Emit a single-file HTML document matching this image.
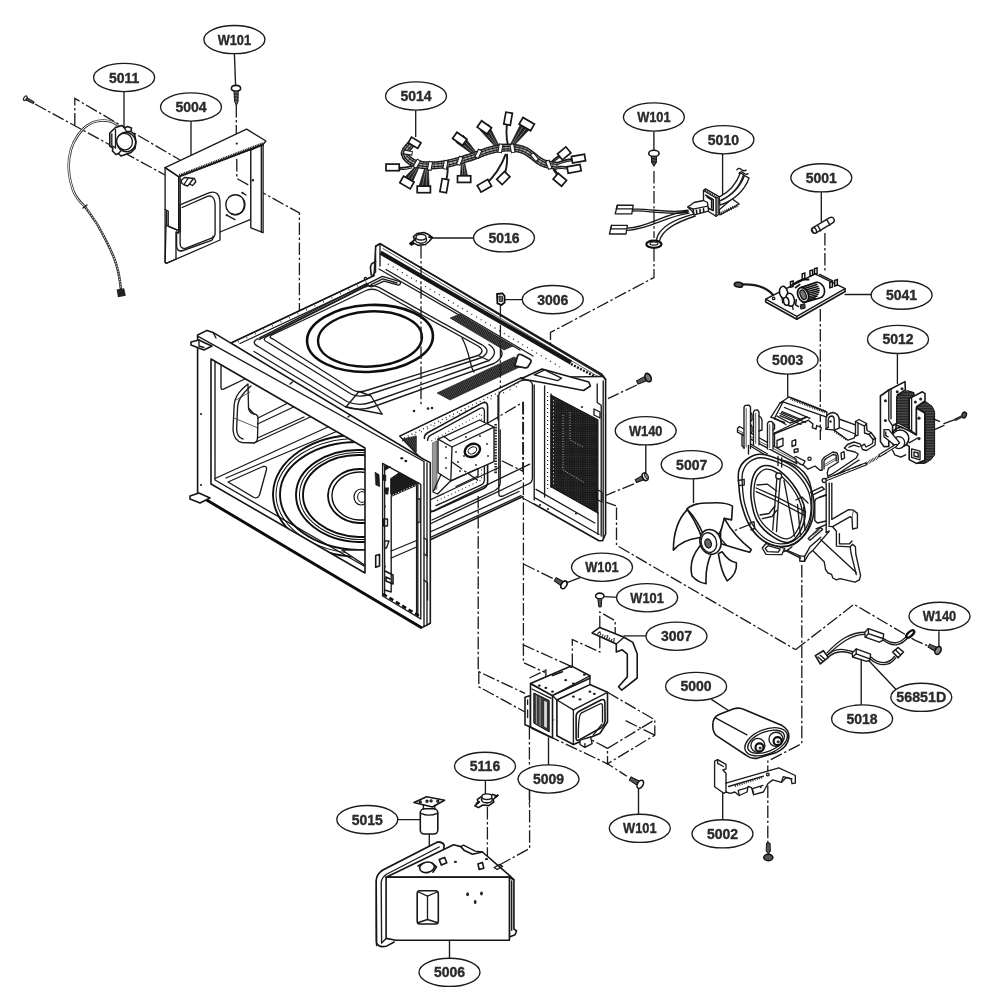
<!DOCTYPE html>
<html><head><meta charset="utf-8"><title>Exploded view</title>
<style>
html,body{margin:0;padding:0;background:#fff;}
body{width:1000px;height:1000px;overflow:hidden;font-family:"Liberation Sans",sans-serif;}
svg{display:block;}
.l{fill:none;stroke:#1a1a1a;stroke-width:1.35;stroke-linecap:round;stroke-linejoin:round;}
.t{fill:none;stroke:#161616;stroke-width:1.6;stroke-linecap:round;stroke-linejoin:round;}
.h{fill:none;stroke:#333;stroke-width:0.8;stroke-linecap:round;stroke-linejoin:round;}
.w{fill:#fff;stroke:#1a1a1a;stroke-width:1.35;stroke-linecap:round;stroke-linejoin:round;}
.wt{fill:#fff;stroke:#161616;stroke-width:1.6;stroke-linecap:round;stroke-linejoin:round;}
.k{fill:#222;stroke:none;}
.d{fill:none;stroke:#1a1a1a;stroke-width:1.3;stroke-dasharray:12.5 2.6 2.4 2.6;}
.lb ellipse{fill:#fff;stroke:#1a1a1a;stroke-width:1.35;}
.lb text{font-family:"Liberation Sans",sans-serif;font-weight:bold;font-size:14px;fill:#2a2a2a;stroke:#2a2a2a;stroke-width:0.35;text-anchor:middle;}
</style></head><body>
<svg width="1000" height="1000" viewBox="0 0 1000 1000">
<defs>
<filter id="bl" x="-2%" y="-2%" width="104%" height="104%"><feGaussianBlur stdDeviation="0.55"/></filter>
</defs>
<rect width="1000" height="1000" fill="#fff"/>
<g filter="url(#bl)">
<!-- 10_topleft.svg -->
<g id="p5004">
<!-- dash-dot guide lines -->
<path class="d" d="M35,104 L165,175"/>
<path class="d" d="M74.8,125.5 L74.8,98.4 L180,160"/>
<path class="d" d="M236.3,105 L236.3,141"/>
<path class="d" d="M236.8,159 L236.8,178.5 L299.4,213 L299.4,313"/>
<!-- plate top face -->
<path class="w" d="M165.1,167.6 L246.6,129.1 L265.9,141 L263,144.5 L178.7,176.7 Z"/>
<!-- left flange and main face -->
<path class="w" d="M165.1,167.6 L178.7,176.7 L178.7,230.6 L166,225 L165.1,262 Q165.1,263.5 167,263 L176,259 L176,232 L178.7,233 L178.7,176.7"/>
<path class="l" d="M165.1,167.6 L165.1,261.5 Q165.2,263.6 167.5,262.8 L220,240 L220,232 L250.8,219.4 L250.8,150.1"/>
<path class="l" d="M178.7,176.7 L178.7,232"/>
<path class="l" d="M180.2,178 L180.2,232"/>
<path class="l" d="M165.1,209.5 L168.2,211 L168.2,226.4 L178.7,230.6"/>
<path class="l" d="M166.6,211 L166.6,225.5"/>
<!-- right flange -->
<path class="w" d="M250.8,150.1 L263.1,144.3 L263.1,232.7 L250.8,227.8 Z"/>
<path class="l" d="M261.3,145.5 L261.3,232"/>
<!-- hatched near edge -->
<path d="M179.5,175.8 L263,143.9" stroke="#1a1a1a" stroke-width="3.4" stroke-dasharray="1.1 0.7" fill="none"/>
<path class="l" d="M178.7,176.7 L263,144.5"/>
<!-- embossed panel -->
<path class="l" d="M178.7,205.4 L208.8,192.8 Q219.5,189.5 220,202.6 L220,232"/>
<path class="l" d="M182.2,207.5 L207.4,196.3 Q214.8,194.3 215.1,205.4 L215.1,233.4 Q215,237 211.6,238.2 L186,248.1 Q180.2,249.5 180.1,243.2 L180.1,207.5"/>
<path class="l" d="M176.6,232 L176.6,246 Q177,252.5 183,250.5 L211.6,240.4 Q213.5,239 213,236.2"/>
<!-- circle hole -->
<ellipse class="l" cx="235.4" cy="204.7" rx="9.6" ry="10"/>
<path class="l" d="M243,199 Q246,205 242.3,211.2 Q238,216 231.5,214.2"/>
<circle class="k" cx="242.4" cy="192.8" r="1.1"/><path class="l" d="M242.4,192.8 L246,195"/>
<circle class="k" cx="226.7" cy="215.2" r="1.1"/><path class="l" d="M226.7,215.2 L235,219.6"/>
<circle class="k" cx="252.9" cy="180.2" r="1.2"/>
<circle class="k" cx="236.8" cy="143.6" r="1.1"/>
<!-- clip -->
<path class="w" d="M181,180.5 L184.5,177.5 L194.5,178.5 L195.8,182 L192.5,185.5 L189.5,184 L187.5,186 L184.5,185 L182,183.5 Z"/>
<path class="l" d="M184,184.5 L188,178.5 M189.5,184 L193,179"/>
</g>
<g id="p5011">
<!-- cable -->
<path d="M120,127.5 C112,118 95,118 84,128 C66,146 66,170 73,190 C76,198 80,202 84.8,206.4 C92,216 95,221 98,225.6 C105,238 110,248 113.6,256.8 C118,268 120,279 120.8,288.5" fill="none" stroke="#333" stroke-width="2.5" stroke-linecap="round"/>
<path d="M120,127.5 C112,118 95,118 84,128 C66,146 66,170 73,190 C76,198 80,202 84.8,206.4" fill="none" stroke="#fff" stroke-width="1"/>
<path d="M84.8,206.4 C92,216 95,221 98,225.6 C105,238 110,248 113.6,256.8 C118,268 120,279 120.8,288.5" fill="none" stroke="#ddd" stroke-width="1.2" stroke-dasharray="1.2 1.4"/>
<path class="l" d="M83,208 L87,205"/>
<path class="k" d="M116.6,289.6 L124.2,288.2 L125.8,295.8 L118,297.2 Z"/>
<!-- sensor body -->
<path class="wt" d="M109.8,133 L115.5,127.5 L122,125.5 L124.5,128 L127.5,126.5 L131.5,128 L131,131.5 L134.5,134.5 L136,142 L135,148.5 L131,152.5 L121,156 L118.5,153.5 L116,154.5 L112.5,151 L112.8,148 L109.8,146 Z"/>
<path class="l" d="M111.8,134 L111.8,145.5 L115.5,148 M115.5,129.5 L115.5,147.5"/>
<ellipse class="wt" cx="126.2" cy="142" rx="9.4" ry="9.8" transform="rotate(-25 126.2 142)"/>
<ellipse class="w" cx="124.6" cy="141.6" rx="7.8" ry="8.3" transform="rotate(-25 124.6 141.6)"/>
<path class="l" d="M124.5,128 L126.5,131.5 M131,131.5 L126.5,131.5 M118.5,153.5 L121,150.8"/>
<!-- small screw -->
<g transform="translate(29.5,100.5) rotate(28)">
<ellipse cx="-4.8" cy="0" rx="1.4" ry="2.6" fill="#fff" stroke="#222" stroke-width="1.2"/>
<path d="M-3.4,-1.4 L5,-1 L5,1 L-3.4,1.4 Z" fill="#444" stroke="#222" stroke-width="0.8"/>
</g>
</g>
<!-- W101 screw top-left -->
<g id="s1">
<path class="l" d="M234.4,53.2 L235.6,86"/>
<path class="wt" d="M231.4,88.6 Q231.4,85.4 236,85.4 Q240.6,85.4 240.6,88.6 Q240.6,91.2 236,91.2 Q231.4,91.2 231.4,88.6 Z"/>
<path d="M234,91.2 L238.2,91.2 L238,101.5 L236.4,105.5 L234.6,101.5 Z" fill="#666" stroke="#1a1a1a" stroke-width="1"/>
<path d="M233.8,93.5 L238.4,94.5 M233.8,96.5 L238.4,97.5 M234,99.5 L238.2,100.5" stroke="#1a1a1a" stroke-width="1" fill="none"/>
</g>
<path class="l" d="M124,91 L124,127.5"/>
<path class="l" d="M191,120.5 L191,154.5"/>

<!-- 20_harness.svg -->
<g id="p5014">
<path d="M412.4,165.9 Q402.7,169.1 392.6,167.4" stroke="#1a1a1a" stroke-width="1.9" fill="none"/>
<path d="M412.4,167.7 Q402.7,170.9 392.6,169.2" stroke="#1a1a1a" stroke-width="1.1" fill="none"/>
<path d="M416.6,165.0 L402.7,179.6 L411.1,185.2 L419.2,166.8 Z" fill="#222" stroke="#222" stroke-width="0.8"/>
<path d="M417.5,165.6 L405.2,181.3 M418.3,166.2 L408.6,183.5" stroke="#aaa" stroke-width="0.6" fill="none"/>
<path d="M425.1,166.8 L418.3,188.7 L429.3,190.2 L428.3,167.2 Z" fill="#222" stroke="#222" stroke-width="0.8"/>
<path d="M426.2,166.9 L421.6,189.2 M427.2,167.1 L426.0,189.7" stroke="#aaa" stroke-width="0.6" fill="none"/>
<path d="M447.6,165.9 Q448.3,176.2 444.3,185.7" stroke="#1a1a1a" stroke-width="1.9" fill="none"/>
<path d="M461.4,162.7 L460.2,179.4 L468.1,178.8 L464.6,162.5 Z" fill="#222" stroke="#222" stroke-width="0.8"/>
<path d="M462.5,162.6 L462.5,179.2 M463.5,162.6 L465.7,179.0" stroke="#aaa" stroke-width="0.6" fill="none"/>
<path d="M477.3,153.8 L463.3,135.2 L456.2,142.5 L475.1,156.1 Z" fill="#222" stroke="#222" stroke-width="0.8"/>
<path d="M476.6,154.5 L461.1,137.4 M475.9,155.3 L458.3,140.3" stroke="#aaa" stroke-width="0.6" fill="none"/>
<path d="M499.5,146.7 L488.5,124.5 L480.2,130.3 L496.9,148.5 Z" fill="#222" stroke="#222" stroke-width="0.8"/>
<path d="M498.6,147.4 L486.0,126.3 M497.8,147.9 L482.7,128.6" stroke="#aaa" stroke-width="0.6" fill="none"/>
<path d="M508.1,146.1 Q504.8,132.4 508.1,118.6" stroke="#1a1a1a" stroke-width="1.9" fill="none"/>
<path d="M512.7,147.0 L531.4,127.3 L522.3,120.9 L510.1,145.2 Z" fill="#222" stroke="#222" stroke-width="0.8"/>
<path d="M511.8,146.4 L528.6,125.4 M511.0,145.8 L525.0,122.8" stroke="#aaa" stroke-width="0.6" fill="none"/>
<path d="M505.9,153.8 Q499.0,172.3 484.4,185.7" stroke="#1a1a1a" stroke-width="1.9" fill="none"/>
<path d="M507.0,153.8 Q508.0,166.4 503.3,178.0" stroke="#1a1a1a" stroke-width="1.9" fill="none"/>
<path d="M551.0,162.6 Q556.5,156.4 564.2,153.4" stroke="#1a1a1a" stroke-width="1.9" fill="none"/>
<path d="M551.0,164.4 Q556.5,158.2 564.2,155.2" stroke="#1a1a1a" stroke-width="1.1" fill="none"/>
<path d="M555.4,163.7 Q566.4,158.4 578.5,158.6" stroke="#1a1a1a" stroke-width="1.9" fill="none"/>
<path d="M555.4,165.5 Q566.4,160.2 578.5,160.4" stroke="#1a1a1a" stroke-width="1.1" fill="none"/>
<path d="M556.5,167.0 Q565.5,165.8 574.1,168.8" stroke="#1a1a1a" stroke-width="1.9" fill="none"/>
<path d="M556.5,168.8 Q565.5,167.6 574.1,170.6" stroke="#1a1a1a" stroke-width="1.1" fill="none"/>
<path d="M553.2,168.1 Q557.9,173.1 559.8,179.8" stroke="#1a1a1a" stroke-width="1.9" fill="none"/>
<path d="M553.2,169.9 Q557.9,174.9 559.8,181.6" stroke="#1a1a1a" stroke-width="1.1" fill="none"/>
<path d="M411.3,143.9 C410.2,145.6 404.0,150.5 404.7,153.8 C405.4,157.1 409.7,161.9 415.7,163.7 C421.8,165.5 432.4,165.7 441.0,164.8 C449.6,163.9 459.3,160.6 467.4,158.2 C475.5,155.8 482.8,152.3 489.4,150.5 C496.0,148.7 501.1,147.6 507.0,147.6 C512.9,147.6 518.7,148.0 524.6,150.5 C530.5,153.0 536.7,160.0 542.2,162.6 C547.7,165.2 555.1,165.4 557.6,165.9" stroke="#1e1e1e" stroke-width="8" fill="none" stroke-linecap="butt"/>
<path d="M411.3,143.9 C410.2,145.6 404.0,150.5 404.7,153.8 C405.4,157.1 409.7,161.9 415.7,163.7 C421.8,165.5 432.4,165.7 441.0,164.8 C449.6,163.9 459.3,160.6 467.4,158.2 C475.5,155.8 482.8,152.3 489.4,150.5 C496.0,148.7 501.1,147.6 507.0,147.6 C512.9,147.6 518.7,148.0 524.6,150.5 C530.5,153.0 536.7,160.0 542.2,162.6 C547.7,165.2 555.1,165.4 557.6,165.9" stroke="#b5b5b5" stroke-width="5.2" fill="none"/>
<path d="M411.3,143.9 C410.2,145.6 404.0,150.5 404.7,153.8 C405.4,157.1 409.7,161.9 415.7,163.7 C421.8,165.5 432.4,165.7 441.0,164.8 C449.6,163.9 459.3,160.6 467.4,158.2 C475.5,155.8 482.8,152.3 489.4,150.5 C496.0,148.7 501.1,147.6 507.0,147.6 C512.9,147.6 518.7,148.0 524.6,150.5 C530.5,153.0 536.7,160.0 542.2,162.6 C547.7,165.2 555.1,165.4 557.6,165.9" stroke="#1e1e1e" stroke-width="3.8" fill="none"/>
<path d="M411.3,143.9 C410.2,145.6 404.0,150.5 404.7,153.8 C405.4,157.1 409.7,161.9 415.7,163.7 C421.8,165.5 432.4,165.7 441.0,164.8 C449.6,163.9 459.3,160.6 467.4,158.2 C475.5,155.8 482.8,152.3 489.4,150.5 C496.0,148.7 501.1,147.6 507.0,147.6 C512.9,147.6 518.7,148.0 524.6,150.5 C530.5,153.0 536.7,160.0 542.2,162.6 C547.7,165.2 555.1,165.4 557.6,165.9" stroke="#b5b5b5" stroke-width="1.4" fill="none"/>
<path d="M411.3,143.9 C410.2,145.6 404.0,150.5 404.7,153.8 C405.4,157.1 409.7,161.9 415.7,163.7 C421.8,165.5 432.4,165.7 441.0,164.8 C449.6,163.9 459.3,160.6 467.4,158.2 C475.5,155.8 482.8,152.3 489.4,150.5 C496.0,148.7 501.1,147.6 507.0,147.6 C512.9,147.6 518.7,148.0 524.6,150.5 C530.5,153.0 536.7,160.0 542.2,162.6 C547.7,165.2 555.1,165.4 557.6,165.9" stroke="#1e1e1e" stroke-width="8" fill="none" stroke-dasharray="1.2 2.6" opacity="0.55"/>
<rect x="415.0" y="159.5" width="3.6" height="8.4" transform="rotate(30 416.8 163.7)" fill="#fff" stroke="#1a1a1a" stroke-width="1"/>
<rect x="428.2" y="161.7" width="3.6" height="8.4" transform="rotate(10 430.0 165.9)" fill="#fff" stroke="#1a1a1a" stroke-width="1"/>
<rect x="443.6" y="160.6" width="3.6" height="8.4" transform="rotate(10 445.4 164.8)" fill="#fff" stroke="#1a1a1a" stroke-width="1"/>
<rect x="457.9" y="156.6" width="3.6" height="8.4" transform="rotate(20 459.7 160.8)" fill="#fff" stroke="#1a1a1a" stroke-width="1"/>
<rect x="476.6" y="149.6" width="3.6" height="8.4" transform="rotate(25 478.4 153.8)" fill="#fff" stroke="#1a1a1a" stroke-width="1"/>
<rect x="498.6" y="144.1" width="3.6" height="8.4" transform="rotate(10 500.4 148.3)" fill="#fff" stroke="#1a1a1a" stroke-width="1"/>
<rect x="510.7" y="144.1" width="3.6" height="8.4" transform="rotate(170 512.5 148.3)" fill="#fff" stroke="#1a1a1a" stroke-width="1"/>
<rect x="532.7" y="152.9" width="3.6" height="8.4" transform="rotate(140 534.5 157.1)" fill="#fff" stroke="#1a1a1a" stroke-width="1"/>
<rect x="547.0" y="160.6" width="3.6" height="8.4" transform="rotate(160 548.8 164.8)" fill="#fff" stroke="#1a1a1a" stroke-width="1"/>
<rect x="406.2" y="148.5" width="3.6" height="8.4" transform="rotate(100 408.0 152.7)" fill="#fff" stroke="#1a1a1a" stroke-width="1"/>
<rect x="409.1" y="139.5" width="11.0" height="6.6" transform="rotate(30 414.6 142.8)" fill="#fff" stroke="#151515" stroke-width="1.7"/>
<rect x="386.0" y="164.1" width="13.2" height="6.6" transform="rotate(0 392.6 167.4)" fill="#fff" stroke="#151515" stroke-width="1.7"/>
<rect x="400.9" y="178.6" width="12.1" height="7.7" transform="rotate(30 406.9 182.4)" fill="#fff" stroke="#151515" stroke-width="1.7"/>
<rect x="417.2" y="186.1" width="13.2" height="6.6" transform="rotate(0 423.8 189.4)" fill="#fff" stroke="#151515" stroke-width="1.7"/>
<rect x="441.0" y="179.1" width="6.6" height="13.2" transform="rotate(10 444.3 185.7)" fill="#fff" stroke="#151515" stroke-width="1.7"/>
<rect x="457.5" y="175.8" width="13.2" height="6.6" transform="rotate(0 464.1 179.1)" fill="#fff" stroke="#151515" stroke-width="1.7"/>
<rect x="453.7" y="135.0" width="12.1" height="7.7" transform="rotate(35 459.7 138.8)" fill="#fff" stroke="#151515" stroke-width="1.7"/>
<rect x="478.3" y="123.6" width="12.1" height="7.7" transform="rotate(35 484.4 127.4)" fill="#fff" stroke="#151515" stroke-width="1.7"/>
<rect x="504.8" y="112.6" width="6.6" height="12.1" transform="rotate(10 508.1 118.6)" fill="#fff" stroke="#151515" stroke-width="1.7"/>
<rect x="520.2" y="120.3" width="13.2" height="7.7" transform="rotate(30 526.8 124.1)" fill="#fff" stroke="#151515" stroke-width="1.7"/>
<rect x="478.3" y="181.9" width="12.1" height="7.7" transform="rotate(-30 484.4 185.7)" fill="#fff" stroke="#151515" stroke-width="1.7"/>
<rect x="497.8" y="174.2" width="11.0" height="7.7" transform="rotate(-45 503.3 178.0)" fill="#fff" stroke="#151515" stroke-width="1.7"/>
<rect x="558.7" y="149.5" width="11.0" height="7.7" transform="rotate(-40 564.2 153.4)" fill="#fff" stroke="#151515" stroke-width="1.7"/>
<rect x="571.9" y="155.3" width="13.2" height="6.6" transform="rotate(-10 578.5 158.6)" fill="#fff" stroke="#151515" stroke-width="1.7"/>
<rect x="567.5" y="165.5" width="13.2" height="6.6" transform="rotate(-10 574.1 168.8)" fill="#fff" stroke="#151515" stroke-width="1.7"/>
<rect x="554.3" y="175.9" width="11.0" height="7.7" transform="rotate(40 559.8 179.8)" fill="#fff" stroke="#151515" stroke-width="1.7"/>
<path class="l" d="M415.7,110.5 L415.7,136.5"/>
</g>

<!-- 30_5010.svg -->
<g id="p5010">
<path class="l" d="M653.9,131.8 L653.9,150.3"/>
<path class="l" d="M722.6,154.3 L722.6,194.4"/>
<path class="d" d="M654,171 L654,238"/>
<path class="d" d="M654,249 L654,277.5 L550.5,332.5 L550.5,376"/>
<ellipse class="wt" cx="653.9" cy="153.4" rx="5.2" ry="3.2"/>
<path d="M651.3,156.4 L656.5,156.4 L656.3,162.4 L653.9,165.9 L651.7,162.4 Z" fill="#555" stroke="#1a1a1a" stroke-width="1.1"/>
<path d="M651.2,158.4 l5.4,1 M651.3,161.4 l5.2,1" stroke="#111" stroke-width="1" fill="none"/>
<path class="l" d="M633.2,209.2 C649.4,207.9 669.2,214.2 688.1,210.2"/>
<path class="l" d="M633.2,211.0 C649.4,210.2 669.2,216.0 688.1,212.0"/>
<path class="l" d="M627.8,228.2 C649.4,226.8 662.0,214.2 688.1,211.0"/>
<path class="l" d="M627.8,230.4 C651.2,228.9 663.8,216.9 689.0,213.1"/>
<path class="l" d="M656.2,240.8 C658.4,226.8 674.6,219.6 693.5,214.2"/>
<path class="l" d="M659.3,241.5 C662.0,229.5 676.4,222.3 695.3,216.0"/>
<ellipse cx="653.9" cy="244.2" rx="7.6" ry="3.6" fill="#fff" stroke="#111" stroke-width="2.2"/>
<ellipse cx="653.9" cy="243.6" rx="4" ry="1.6" fill="#fff" stroke="#111" stroke-width="1.2"/>
<path class="w" d="M617.4,205.2 L633.2,205.2 L631.8,213.8 L615.2,213.8 Z"/>
<path class="l" d="M617.4,205.2 L616.3,208.8 L632.5,208.8"/>
<path class="w" d="M611.6,225.3 L627.4,225.3 L626.0,234.0 L609.4,234.0 Z"/>
<path class="l" d="M611.6,225.3 L610.5,228.9 L626.7,228.9"/>
<path class="w" d="M719.0,210.0 L732.0,198.8 L739.2,204.0 L720.0,214.8 Z"/>
<path d="M721.0,213.2 L738.2,205.2" stroke="#1a1a1a" stroke-width="3" stroke-dasharray="1 1.1" fill="none"/>
<path class="w" d="M719.0,197.2 Q734.0,190.0 740.5,172.8 L743.5,174.8 Q738.0,193.0 719.5,201.2 Z"/>
<path class="w" d="M719.5,201.2 Q738.0,193.0 744.5,175.5 L749.0,178.2 Q742.0,197.0 720.0,205.2 Z"/>
<path class="l" d="M736.8,169.8 q2,-2.6 4.4,-0.4 t5,0.8 M739.0,173.2 q2,-2.4 4.4,-0.2 t4.6,0.6"/>
<path class="w" d="M703.5,190.5 L705.5,188.8 L719.0,196.5 L719.0,214.2 L716.0,216.2 L703.5,208.2 Z"/>
<path class="l" d="M703.5,190.5 L716.0,198.0 L716.0,216.2"/>
<path class="l" d="M716.0,198.0 L719.0,196.5"/>
<path d="M705.2,190.0 L717.2,197.0" stroke="#1a1a1a" stroke-width="2.6" stroke-dasharray="1 1" fill="none"/>
<path d="M717.5,198.5 L717.5,214.8" stroke="#1a1a1a" stroke-width="2.6" stroke-dasharray="1 1" fill="none"/>
<path class="t" d="M705.8,195.2 L713.2,199.6 L713.2,210.5 L708.5,208.2"/>
<path class="l" d="M707.2,197.2 L711.5,199.8 L711.5,208.0"/>
<path class="w" d="M687.8,207.0 L694.0,202.5 L703.5,200.5 L707.5,202.5 L708.5,211.2 L694.0,214.8 L692.5,211.5 Z"/>
<path class="l" d="M687.8,207.0 L693.2,209.2 L707.8,206.2"/>
<path class="l" d="M693.2,209.2 L694.0,214.8"/>
<path class="t" d="M696.5,210.2 L696.7,213.2"/>
<path class="t" d="M700.0,209.5 L700.2,212.5"/>
<path class="t" d="M703.5,208.8 L703.7,211.8"/>
</g>

<!-- 32_5041.svg -->
<g id="p5041">
<path class="l" d="M821.3,192.4 L821.3,221.4"/>
<path class="l" d="M845.1,294.5 L871.1,294.5"/>
<path class="d" d="M824.9,232.9 L824.9,272.8"/>
<path class="d" d="M820.3,309 L820.3,440"/>
<path d="M814.6,230.2 L831.2,220.3" stroke="#1a1a1a" stroke-width="7.4" stroke-linecap="round" fill="none"/>
<path d="M814.6,230.2 L831.2,220.3" stroke="#fff" stroke-width="4.6" stroke-linecap="round" fill="none"/>
<ellipse cx="814.3" cy="230.4" rx="1.9" ry="3" transform="rotate(-30 814.3 230.4)" class="w"/>
<path class="l" d="M817.8,225.6 L820.7,230.8"/>
<path class="l" d="M827.0,220.1 L830.0,225.2"/>
<path d="M774.9,297.7 C769.0,288.0 756.0,284.1 742.4,284.4" stroke="#1a1a1a" stroke-width="2.4" fill="none" stroke-linecap="round"/>
<ellipse cx="738.5" cy="284.7" rx="4.2" ry="2.4" transform="rotate(8 738.5 284.7)" fill="#555" stroke="#111" stroke-width="1.6"/>
<path class="wt" d="M765.7,299.1 L815.0,273.9 L845.1,288.6 L845.1,291.5 L796.8,319.3 L765.7,302.0 Z"/>
<path class="l" d="M765.7,299.1 L796.8,316.3 L845.1,288.6"/>
<path class="l" d="M796.8,316.3 L796.8,319.3"/>
<path d="M790.5,281.7 L793.1,280.9 L793.1,286.4 L790.5,287.2 Z" fill="#fff" stroke="#111" stroke-width="1.5"/>
<path d="M802.2,273.9 L804.8,273.1 L804.8,278.6 L802.2,279.4 Z" fill="#fff" stroke="#111" stroke-width="1.5"/>
<path d="M810.0,270.7 L812.6,269.9 L812.6,275.3 L810.0,276.1 Z" fill="#fff" stroke="#111" stroke-width="1.5"/>
<path d="M814.5,268.7 L817.1,267.9 L817.1,273.4 L814.5,274.2 Z" fill="#fff" stroke="#111" stroke-width="1.5"/>
<path d="M829.8,282.4 L832.4,281.6 L832.4,287.0 L829.8,287.8 Z" fill="#fff" stroke="#111" stroke-width="1.5"/>
<path d="M834.7,280.4 L837.3,279.6 L837.3,285.1 L834.7,285.9 Z" fill="#fff" stroke="#111" stroke-width="1.5"/>
<path class="l" d="M819.7,274.3 L832.7,280.8"/>
<ellipse cx="783.6" cy="292.5" rx="4.0" ry="6.2" transform="rotate(-12 783.6 292.5)" fill="#fff" stroke="#111" stroke-width="1.5"/>
<ellipse cx="790.1" cy="299.7" rx="4.2" ry="6.6" transform="rotate(-12 790.1 299.7)" fill="#fff" stroke="#111" stroke-width="1.5"/>
<ellipse cx="786.2" cy="301.3" rx="2.6" ry="4.0" transform="rotate(-12 786.2 301.3)" fill="#fff" stroke="#111" stroke-width="1.5"/>
<path class="l" d="M782.0,297.7 L782.7,302.9"/>
<path class="l" d="M792.4,305.5 L793.1,309.4"/>
<circle class="l" cx="773.6" cy="298.4" r="1.2"/>
<path d="M801.2,287.6 L815.8,282.4 A6.6,8 -20 0 1 819.7,298.0 L805.1,302.3 Z" fill="#fff" stroke="#111" stroke-width="1.6"/>
<path d="M801.2,287.6 Q808.7,285.0 816.1,282.4" stroke="#111" stroke-width="1.5" fill="none"/>
<path d="M801.3,289.4 Q809.8,286.9 817.5,284.3" stroke="#111" stroke-width="1.5" fill="none"/>
<path d="M801.4,291.2 Q810.7,288.7 818.6,286.3" stroke="#111" stroke-width="1.5" fill="none"/>
<path d="M801.5,293.1 Q811.4,290.6 819.4,288.2" stroke="#111" stroke-width="1.5" fill="none"/>
<path d="M801.6,294.9 Q811.7,292.5 819.7,290.2" stroke="#111" stroke-width="1.5" fill="none"/>
<path d="M801.7,296.7 Q811.5,294.4 819.4,292.1" stroke="#111" stroke-width="1.5" fill="none"/>
<path d="M801.8,298.6 Q810.9,296.3 818.6,294.1" stroke="#111" stroke-width="1.5" fill="none"/>
<path d="M801.9,300.4 Q810.1,298.2 817.5,296.0" stroke="#111" stroke-width="1.5" fill="none"/>
<path d="M802.0,302.3 Q809.0,300.1 816.1,298.0" stroke="#111" stroke-width="1.5" fill="none"/>
<ellipse cx="803.1" cy="294.8" rx="5.2" ry="7.6" transform="rotate(-22 803.1 294.8)" fill="#fff" stroke="#111" stroke-width="1.8"/>
<ellipse cx="803.1" cy="294.8" rx="2.8" ry="5" transform="rotate(-22 803.1 294.8)" fill="#777" stroke="#111" stroke-width="1.2"/>
<path d="M791.1,285.4 L797.6,281.5 L802.8,279.5 L809.3,279.5" stroke="#111" stroke-width="1.8" fill="none"/>
<path d="M795.0,288.0 L800.2,284.1" stroke="#111" stroke-width="1.6" fill="none"/>
<path d="M800.2,304.9 L804.8,303.6 L805.1,308.1 L800.9,309.1 Z" fill="#444" stroke="#111" stroke-width="1"/>
<path d="M796.3,299.0 L795.7,304.9 L798.9,306.8" stroke="#111" stroke-width="1.5" fill="none"/>
</g>

<!-- 40_5003.svg -->
<g id="p5003">
<path class="l" d="M787.7,374 L787.7,397"/>
<path class="w" d="M771.0,417.2 L780.0,403.0 L789.0,397.0 L826.8,412.0 L826.8,417.2 L783.0,401.8 L774.3,418.7"/>
<path class="l" d="M780.0,403.0 L783.0,401.8"/>
<path class="l" d="M771.0,417.2 L778.5,420.2"/>
<path d="M790.8,398.5 L825.0,411.7" stroke="#1a1a1a" stroke-width="3.2" stroke-dasharray="0.9 0.9" fill="none"/>
<path class="l" d="M784.5,407.5 L810.0,418.3"/>
<path class="l" d="M781.5,412.7 L805.5,422.5"/>
<path class="l" d="M780.0,415.7 L801.0,424.3"/>
<path class="l" d="M774.3,418.7 L784.5,422.5"/>
<path class="w" d="M839.0,419.0 L856.0,425.2 L855.5,434.5 L854.0,438.2 L848.0,440.2 L834.0,430.0 Z"/>
<path class="l" d="M838.5,427.0 L855.0,434.0"/>
<path d="M834.5,431.2 L847.2,440.2" stroke="#1a1a1a" stroke-width="2.2" stroke-dasharray="1 1.2" fill="none"/>
<path class="w" d="M826.0,429.2 L826.0,418.5 Q826.5,413.5 833.0,412.5 Q839.0,413.5 839.2,420.0 L839.2,428.2 L834.0,430.2 Z"/>
<path class="l" d="M828.2,427.2 L828.2,419.5 Q828.8,416.0 832.0,416.0 Q834.2,416.5 834.2,420.0 L834.2,430.2"/>
<circle class="k" cx="830.5" cy="421.5" r="1.2"/>
<path class="l" d="M826.0,429.2 L828.2,427.2"/>
<path class="w" d="M855.5,436.0 L855.5,421.5 L859.0,419.5 L866.5,423.5 L867.0,430.5 L871.0,432.5 L875.5,438.5 L875.0,445.0 L866.5,450.5 L862.5,449.5 L861.2,446.2 L864.5,444.2 L866.0,447.0 L872.5,443.5 L873.0,439.5 L869.0,434.5 L864.5,433.0 L864.5,426.2 L858.0,423.0 L858.0,435.2 Z"/>
<path class="l" d="M855.5,421.5 L858.0,423.0"/>
<path class="l" d="M866.5,423.5 L864.5,426.2"/>
<path class="l" d="M871.0,432.5 L869.0,434.5"/>
<path class="l" d="M875.5,438.5 L873.0,439.5"/>
<path class="l" d="M844.5,448.0 L847.5,444.5 L854.0,442.0 L860.0,443.8 L861.2,446.2"/>
<path class="l" d="M844.5,448.0 L847.2,450.2 L855.0,452.0 L858.2,454.0 L856.2,458.0 L832.0,474.2 L828.0,476.2"/>
<path class="l" d="M849.0,447.2 L854.0,445.2 L859.2,446.8"/>
<path class="l" d="M830.0,479.0 L859.0,460.0"/>
<path class="l" d="M822.0,470.2 L822.0,460.2 L824.5,457.0 L833.0,452.0 L837.0,453.0 L838.2,456.0 L838.2,462.2 L828.5,468.2"/>
<path class="l" d="M824.0,469.0 L824.0,461.0 L826.0,458.5 L833.2,454.5 L836.2,455.2 L836.2,461.0"/>
<path class="h" d="M824.5,466.5 L837.0,459.2"/>
<path class="h" d="M824.5,464.5 L836.8,457.5"/>
<path class="l" d="M841.0,453.2 L844.0,451.5 L844.6,458.0 L841.6,459.6 Z"/>
<path class="l" d="M793.0,458.0 L796.0,456.5 L805.0,461.2 L803.0,465.0 L800.0,464.0 Z"/>
<path class="l" d="M803.0,465.0 L808.0,469.2 L815.0,466.0 L820.0,470.2 L822.0,470.2"/>
<path class="l" d="M828.5,468.2 L827.2,473.2 L828.0,476.2"/>
<path class="l" d="M772.5,434.5 L808.8,420.1"/>
<path class="l" d="M771.7,434.8 L771.7,448.0 L795.0,460.0 L796.8,463.7"/>
<path class="l" d="M738.0,428.5 L739.5,432.2 L795.0,460.7"/>
<path class="l" d="M738.0,428.5 L771.0,444.2"/>
<circle class="l" cx="809.5" cy="458.8" r="1.6"/>
<path class="l" d="M777.0,440.5 L783.0,438.2 L783.0,445.7 L777.0,448.0 Z"/>
<path class="l" d="M792.0,441.2 L795.7,439.7 L795.7,445.0 L792.0,446.5 Z"/>
<path class="l" d="M794.2,449.5 L798.0,448.7 L798.0,451.7 L794.2,452.5 Z"/>
<path class="l" d="M809.2,421.0 L813.0,424.0 L812.2,427.7 L816.0,429.2 L816.7,425.5 L821.2,427.7 L820.5,431.5"/>
<path class="w" d="M737.5,428.5 L739.5,426.5 L796.0,459.0 L796.0,463.2 L737.5,432.2 Z"/>
<path class="h" d="M737.5,429.8 L796.0,460.6"/>
<path class="w" d="M744.0,448.5 L744.0,407.2 L745.2,405.4 L749.1,405.2 L750.5,407.0 L750.5,448.5"/>
<path class="h" d="M746.2,408.5 L746.2,447.0"/>
<path class="w" d="M753.5,444.8 L753.5,412.0 L754.7,410.2 L757.6,410.0 L759.0,411.8 L759.0,444.8"/>
<path class="h" d="M755.7,413.3 L755.7,443.3"/>
<path class="w" d="M767.5,449.0 L767.5,423.4 L768.7,421.6 L771.6,421.4 L773.0,423.2 L773.0,449.0"/>
<path class="h" d="M769.7,424.7 L769.7,447.5"/>
<path class="l" d="M750.5,412.5 L752.0,414.5 L752.0,420.0 L750.5,421.5"/>
<path class="l" d="M750.5,424.5 L752.0,426.5 L752.0,432.0 L750.5,433.0"/>
<path class="l" d="M759.0,416.0 L760.8,417.2 L762.0,420.0 L762.0,430.0 L759.0,431.0"/>
<path class="l" d="M773.0,423.0 L774.5,424.5 L774.5,429.0 L773.0,430.0"/>
<path class="l" d="M742.0,434.0 L742.0,446.0 L744.0,447.5"/>
<path class="l" d="M748.5,445.5 L748.5,454.0"/>
<path class="l" d="M750.5,444.0 L767.5,454.0"/>
<path class="l" d="M750.5,446.0 L766.0,455.5"/>
<path class="l" d="M774.0,418.0 L786.0,424.5"/>
<path class="l" d="M777.0,416.2 L790.0,423.0 L807.0,416.8"/>
<path class="l" d="M780.0,413.5 L794.0,420.0"/>
<path class="l" d="M782.0,411.5 L800.0,419.0"/>
<path class="l" d="M774.5,433.0 L774.5,446.0"/>
<path class="l" d="M774.5,433.0 L806.0,417.5"/>
<path class="wt" d="M739.0,470.0 C740.3,466.0 743.0,462.1 746.5,459.5 C750.0,456.9 754.5,454.2 760.0,454.2 C765.5,454.2 773.2,456.9 779.5,459.5 C785.7,462.1 792.2,465.0 797.5,470.0 C802.7,475.0 808.2,482.7 811.0,489.5 C813.7,496.2 814.5,503.7 814.0,510.5 C813.5,517.2 811.2,524.5 808.0,530.0 C804.7,535.5 799.2,540.7 794.5,543.5 C789.7,546.2 784.7,547.0 779.5,546.5 C774.2,546.0 768.0,544.0 763.0,540.5 C758.0,537.0 753.1,531.7 749.5,525.5 C745.9,519.2 743.0,510.0 741.2,503.0 C739.4,496.0 739.1,489.0 738.7,483.5 C738.3,478.0 737.7,474.0 739.0,470.0 Z"/>
<path class="l" d="M742.7,472.2 C743.8,468.6 745.7,464.9 748.7,462.5 C751.7,460.1 755.7,457.7 760.7,457.7 C765.7,457.7 773.0,460.1 778.7,462.5 C784.5,464.9 790.4,467.6 795.2,472.2 C800.1,476.9 805.4,483.9 808.0,490.2 C810.6,496.6 811.4,504.1 811.0,510.5 C810.6,516.9 808.6,523.4 805.7,528.5 C802.9,533.5 798.0,538.2 793.7,540.8 C789.5,543.3 785.1,544.2 780.2,543.8 C775.4,543.4 769.5,541.5 764.8,538.2 C760.1,534.9 755.6,529.9 752.2,524.0 C748.8,518.1 746.2,509.6 744.5,503.0 C742.9,496.4 742.6,489.4 742.3,484.2 C742.0,479.1 741.7,475.9 742.7,472.2 Z"/>
<path class="wt" d="M751.7,482.0 C752.6,477.1 753.9,473.5 756.2,470.7 C758.6,468.0 762.1,465.5 766.0,465.5 C769.9,465.5 774.5,466.9 779.5,470.7 C784.5,474.6 791.7,482.1 796.0,488.7 C800.2,495.4 804.2,503.6 805.0,510.5 C805.8,517.4 803.5,524.7 800.8,530.0 C798.1,535.3 793.5,541.2 788.8,542.3 C784.1,543.4 778.0,540.3 772.7,536.7 C767.5,533.2 760.9,527.1 757.3,521.0 C753.7,514.9 752.2,506.5 751.3,500.0 C750.4,493.5 750.9,486.9 751.7,482.0 Z"/>
<path class="l" d="M754.7,483.5 C755.5,479.1 756.7,476.1 758.8,473.7 C760.9,471.4 763.7,469.1 767.2,469.2 C770.6,469.4 775.0,471.2 779.5,474.8 C784.0,478.4 790.4,485.0 794.2,491.0 C797.9,496.9 801.3,504.2 802.0,510.5 C802.7,516.7 800.5,523.8 798.2,528.5 C795.9,533.2 792.2,537.8 788.2,538.7 C784.2,539.6 778.9,536.9 774.2,533.7 C769.5,530.5 763.3,525.1 760.0,519.5 C756.7,513.9 755.2,506.0 754.3,500.0 C753.4,494.0 754.0,487.9 754.7,483.5 Z"/>
<path class="l" d="M738.2,480.5 L744.2,479.3 L744.2,485.0 L739.3,485.7"/>
<path class="l" d="M749.5,523.2 L754.0,521.7 L754.7,528.5 L751.0,530.0"/>
<path class="l" d="M776.8,479.3 L775.0,503.0 L772.7,530.0"/>
<path class="l" d="M780.2,479.3 L778.3,503.0 L776.5,531.5"/>
<path class="l" d="M784.0,480.5 L794.5,536.0"/>
<path class="l" d="M756.2,488.0 L778.0,497.7 L805.7,512.0"/>
<path class="l" d="M756.2,491.7 L778.0,501.5 L805.0,515.7"/>
<path class="l" d="M757.0,485.0 L767.5,484.2 L776.5,491.0"/>
<path class="l" d="M760.0,515.0 L769.0,513.5 L775.0,506.0"/>
<path class="l" d="M762.2,518.7 L772.0,516.5 L776.5,510.5"/>
<path class="l" d="M796.0,500.0 L802.0,497.0 L808.0,503.0"/>
<path class="l" d="M797.5,504.5 L800.5,536.0"/>
<path class="l" d="M803.5,507.5 L805.0,530.0"/>
<circle class="w" cx="778.7" cy="476.0" r="3"/>
<path class="l" d="M779.5,459.5 Q814.0,467.0 811.7,500.0"/>
<path class="l" d="M811.7,500.0 Q814.0,533.0 793.0,545.0"/>
<path class="l" d="M778.0,456.5 L778.0,465.5"/>
<path class="l" d="M781.7,458.0 L781.7,467.0"/>
<path class="l" d="M826.2,483.2 L826.2,532.4"/>
<path class="l" d="M829.2,483.2 L829.2,526.4"/>
<path class="l" d="M831.8,483.2 L831.8,519.4"/>
<path class="l" d="M826.2,494.6 L816.0,498.8 L814.8,501.4 L814.8,520.4 L817.4,523.0 L826.2,521.0"/>
<path class="l" d="M819.6,497.4 L826.2,495.0"/>
<path class="l" d="M810.6,492.2 L822.0,486.8 L824.4,489.2 L812.4,495.2 Z"/>
<path class="l" d="M808.2,538.4 L820.2,527.6 L822.6,529.4 L810.0,540.2 Z"/>
<path class="h" d="M813.6,534.8 L819.6,530.0"/>
<path class="l" d="M816.0,528.8 L826.2,524.6"/>
<path class="w" d="M831.8,519.4 L848.6,509.6 L853.4,510.2 L857.4,513.4 L857.4,527.8 L852.6,529.0 L852.0,518.0 L850.2,516.6 L832.6,526.6 L829.2,526.4"/>
<path class="h" d="M853.4,510.2 L852.0,518.0"/>
<path class="w" d="M832.8,527.0 L836.4,531.2 L836.4,546.2 L850.2,546.8 L852.6,544.2 L855.4,546.8 L855.8,554.0 L860.6,575.6 L859.4,579.8 L855.0,582.2 L840.0,578.6 L836.4,579.8 L832.8,578.0 L831.6,574.4 L828.0,573.0 L825.6,569.6 L824.2,561.8 L812.6,550.6 L822.0,539.6 L829.2,531.2"/>
<path class="l" d="M839.4,533.6 L839.4,543.8 L849.6,543.8 L852.0,541.0"/>
<path class="l" d="M850.2,546.8 L851.0,553.0 L856.3,574.6"/>
<path class="l" d="M820.8,539.8 L856.2,572.6"/>
<path class="l" d="M826.2,532.4 L829.2,531.2"/>
<path class="l" d="M780.0,552.8 L787.2,550.4 L799.8,555.9 L799.8,561.2 L804.6,561.2 L808.8,554.0 L812.6,550.6"/>
<path class="l" d="M799.8,555.9 L804.6,556.4 L804.6,561.2"/>
<path class="l" d="M804.6,556.4 L810.0,546.8 L820.8,537.2"/>
<path class="l" d="M787.2,550.4 L792.0,546.8"/>
<path class="w" d="M762.2,548.0 L766.0,543.5 L784.7,548.3 L781.7,554.7 L766.0,554.3 Z"/>
<path class="l" d="M765.2,548.3 L768.2,545.7 L780.2,549.2 L778.3,552.2 L767.5,551.7 Z"/>
<path class="l" d="M784.7,550.2 L800.5,558.2"/>
<path d="M823.7,480.5 L865.7,464.0" stroke="#1a1a1a" stroke-width="3.4" stroke-linecap="round" fill="none"/>
<path d="M824.0,480.5 L865.0,464.3" stroke="#fff" stroke-width="1.2" stroke-linecap="round" fill="none"/>
<path d="M865.7,464.0 L878.5,456.8" stroke="#222" stroke-width="3.2" stroke-dasharray="0.8 0.8" fill="none"/>
<path class="l" d="M878.5,456.8 L886.0,453.2"/>
<circle class="w" cx="824.2" cy="480.5" r="2"/>
<path class="d" d="M833.5,475.7 L862.0,464.3"/>
<path class="d" d="M751.0,524.0 L721.0,536.0"/>
</g>
<g id="p5012">
<defs><pattern id="coil" width="4" height="1.6" patternUnits="userSpaceOnUse"><rect width="4" height="1.6" fill="#222"/><rect y="1.1" width="4" height="0.5" fill="#666"/></pattern></defs>
<path class="l" d="M897.4,353.5 L897.4,383.5"/>
<path class="wt" d="M880.4,396.0 L888.8,390.0 L905.0,381.6 L905.4,390.0 L897.4,395.0 L897.4,423.0 L892.6,425.8 L892.6,433.2 L888.8,436.8 L888.8,446.4 L884.0,446.6 L880.4,441.6 Z"/>
<path class="l" d="M888.8,390.0 L888.8,420.0 L892.6,425.8"/>
<path class="l" d="M891.0,389.0 L891.0,418.8"/>
<circle class="k" cx="885.4" cy="400.8" r="1.5"/>
<circle class="k" cx="885.4" cy="420.6" r="1.5"/>
<circle class="k" cx="897.2" cy="391.8" r="1.5"/>
<circle class="k" cx="902.0" cy="388.8" r="1.5"/>
<path d="M896.6,396.6 L907.4,390.6 L914.0,392.6 L914.2,395.4 L909.2,398.6 L909.2,429.0 L896.6,422.4 Z" fill="url(#coil)" stroke="#111" stroke-width="1"/>
<path class="wt" d="M909.2,398.6 L922.4,391.8 L925.0,393.6 L925.0,401.0 L916.6,406.6 L916.6,435.0 L909.2,429.6 Z"/>
<path class="l" d="M911.6,397.8 L911.6,430.8"/>
<circle class="k" cx="915.4" cy="402.0" r="1.5"/>
<circle class="k" cx="920.6" cy="399.0" r="1.5"/>
<path d="M917.4,406.8 L925.4,401.4 L932.0,406.2 L934.6,411.6 L934.6,454.8 L930.8,459.8 L924.8,463.4 L916.4,463.4 L924.8,458.4 L924.8,413.4 L917.4,408.6 Z" fill="url(#coil)" stroke="#111" stroke-width="1"/>
<path class="wt" d="M916.4,408.0 L924.8,413.0 L924.8,460.2 L916.4,463.4 L909.2,459.6 L909.2,446.4 L896.0,438.0 L896.0,424.8 L909.2,430.8 L916.4,435.0 Z"/>
<circle class="k" cx="919.0" cy="418.2" r="1.6"/>
<circle class="k" cx="919.0" cy="438.6" r="1.6"/>
<circle class="wt" cx="900.2" cy="438.6" r="8.6"/>
<path class="t" d="M902.2,427.6 a9,9 0 0 0 -10,12"/>
<circle class="w" cx="898.7" cy="442.6" r="6"/>
<path class="w" d="M884.0,429.6 L888.8,429.6 L899.6,442.8 L896.0,446.4 L884.0,436.8 Z"/>
<path class="l" d="M885.8,432.0 L885.8,435.6 L888.2,436.8"/>
<path class="l" d="M892.4,450.0 L894.8,454.8 L900.8,457.2 L905.6,454.8"/>
<path class="w" d="M911.6,448.8 L920.0,451.2 L920.0,459.8 L911.6,457.4 Z"/>
<path class="l" d="M914.0,451.8 L918.2,453.0 L918.2,457.2 L914.0,456.0 Z"/>
<path class="l" d="M909.2,442.8 L917.6,438.0"/>
<path d="M896.0,445.4 L879.8,455.4" stroke="#1a1a1a" stroke-width="3.2" stroke-linecap="round" fill="none"/>
<path d="M895.8,445.6 L880.2,455.2" stroke="#fff" stroke-width="1.1" stroke-linecap="round" fill="none"/>
<path class="l" d="M933.4,418.8 L939.4,421.4"/>
<path class="l" d="M934.6,429.6 L944.0,425.4"/>
<path class="l" d="M944.0,423.6 L954.8,419.6"/>
<ellipse cx="964.2" cy="415.0" rx="2.2" ry="3" transform="rotate(20 964.2 415.0)" fill="#555" stroke="#111" stroke-width="1.3"/>
<path d="M954.8,420.0 L962.0,416.4" stroke="#333" stroke-width="2.6" fill="none"/>
</g>

<!-- 42_5007.svg -->
<g id="p5007">
<path class="l" d="M693.5,479 L693.5,502.5"/>
<path class="l" d="M645.8,445 L645.8,472.5"/>
<path class="wt" d="M686.9,508.9 Q694.6,502.3 710.0,503.0 Q725.4,501.7 732.5,506.1 L731.6,519.9 L724.3,518.4 Q723.2,527.6 718.8,534.2 L703.4,534.7 Q696.8,518.8 686.9,508.9 Z"/>
<path class="wt" d="M687.3,509.6 Q673.7,523.2 673.3,550.1 Q683.6,538.6 701.7,537.5 Q696.8,523.2 687.3,509.6 L687.3,509.6 Z"/>
<path class="wt" d="M701.7,544.1 Q688.0,558.4 692.0,576.0 Q697.9,582.6 706.1,583.7 Q705.2,567.2 711.1,554.0 Q705.6,547.4 701.7,544.1 Z"/>
<path class="wt" d="M718.4,553.6 Q721.0,571.6 727.2,580.9 Q737.5,573.8 736.4,562.8 Q728.7,561.7 722.1,551.8 L718.4,553.6 Z"/>
<path class="wt" d="M724.3,518.4 Q734.2,536.4 751.4,549.6 L749.6,552.3 Q732.0,547.4 720.6,543.5 L720.6,532.0 Z"/>
<ellipse class="wt" cx="710.5" cy="541.9" rx="10.5" ry="12.5" transform="rotate(-15 710.5 541.9)"/>
<ellipse class="w" cx="708.9" cy="542.6" rx="7.6" ry="10" transform="rotate(-15 708.9 542.6)"/>
<ellipse cx="708.1" cy="543.4" rx="3.2" ry="4.6" transform="rotate(-15 708.1 543.4)" fill="#666" stroke="#111" stroke-width="1.2"/>
<path class="l" d="M720.6,538.6 L726.5,545.2"/>
<g transform="translate(642.2,478.1) rotate(-25)"><path d="M-7,-1.6 L1,-2.2 L1,2.2 L-7,1.6 Z" fill="#555" stroke="#111" stroke-width="1"/><ellipse cx="3.2" cy="0" rx="2.6" ry="4" fill="#fff" stroke="#111" stroke-width="1.6"/><ellipse cx="4.6" cy="0" rx="1.6" ry="2.8" fill="#888" stroke="#111" stroke-width="0.8"/></g>
<path class="d" d="M634,483.8 L602,497"/>
<path class="l" d="M600,500.2 L615.5,505.6"/>
<path class="d" d="M616.5,507.5 L616.5,545.2 L795.5,649.6"/>
</g>

<!-- 50_cavity.svg -->
<defs>
<pattern id="mesh" width="2.2" height="2.2" patternUnits="userSpaceOnUse"><rect width="2.2" height="2.2" fill="#1b1b1b"/><circle cx="1.1" cy="1.1" r="0.33" fill="#6a6a6a"/></pattern>
<pattern id="hat" width="1.8" height="6" patternUnits="userSpaceOnUse" patternTransform="rotate(-28)"><rect width="1.8" height="6" fill="#1b1b1b"/><rect width="0.5" height="6" fill="#777"/></pattern>
<clipPath id="openclip"><path d="M211,359 L365,448 L365,573 L211,484 Z"/></clipPath>
</defs>
<g id="cavity">
<path d="M521,378 L603,376.5 L605.6,379.5 L605.6,534 L602.6,540.6 L599,540.8 L521.3,496.7 Z" fill="#fff"/>
<path class="t" d="M603.0,376.5 L605.6,379.5 L605.6,534.0 L602.6,540.6 L599.0,540.8 L521.3,496.7"/>
<path d="M551.0,395.0 L598.0,419.7 L598.0,513.0 L551.0,486.6 Z" fill="url(#mesh)" stroke="#111" stroke-width="1"/>
<path d="M563,415 L563,470 L585,483" stroke="#bbb" stroke-width="1" stroke-dasharray="1 1.6" fill="none"/>
<path d="M570,412 L570,440 L583,447" stroke="#ccc" stroke-width="0.9" stroke-dasharray="1 1.6" fill="none"/>
<path d="M553.5,400 L553.5,486" stroke="#ddd" stroke-width="0.9" stroke-dasharray="1.2 2.4" fill="none"/>
<path class="l" d="M544.6,386.0 L544.6,497.0"/>
<path class="l" d="M551.0,394.0 L551.0,487.0"/>
<path d="M547.6,392 L547.6,492" stroke="#222" stroke-width="1.2" stroke-dasharray="1 3" fill="none"/>
<path class="l" d="M597.2,384.0 L597.2,402.5 L601.2,405.2 L601.2,536.0"/>
<path class="l" d="M598.0,513.0 L598.0,534.0"/>
<path class="l" d="M551.0,486.6 L598.0,513.0"/>
<path class="l" d="M527.6,493.6 L599.0,534.5"/>
<path class="l" d="M536.0,489.4 L594.8,523.0"/>
<path class="l" d="M603.2,537.7 L603.2,381.0"/>
<circle class="k" cx="582.0" cy="407.0" r="1.1"/>
<circle class="k" cx="576.0" cy="513.5" r="1.1"/>
<circle class="k" cx="533.0" cy="501.0" r="1.1"/>
<circle class="k" cx="540.0" cy="505.0" r="1.1"/>
<circle class="k" cx="548.0" cy="509.0" r="1.1"/>
<path class="l" d="M594.0,409.0 L600.0,412.0 L600.0,418.0 L594.0,415.0 Z"/>
<path class="l" d="M596.0,489.0 L602.0,492.0 L602.0,502.0 L596.0,499.0 Z"/>
<path d="M399.6,436 L521.2,377.6 L534.2,384 L534.2,503.5 L521.3,496.7 L430,540 L430,462 Z" fill="#fff"/>
<path class="l" d="M534.2,385.0 L534.2,500.0"/>
<path class="t" d="M399.6,436.0 L521.2,377.6"/>
<path d="M404,438 L521,381.6" stroke="#222" stroke-width="1.3" stroke-dasharray="1 3.2" fill="none"/>
<path class="l" d="M498.8,395.5 Q498.8,392.5 501.5,391 L520,381.2 Q524,379.6 528,380.4 Q532.4,381.5 532.4,385 L532.4,478 Q532.4,482 529,483.6 L503,496 Q498.8,497.6 498.8,493.5 Z"/>
<path class="d" d="M487.6,423.2 L522.8,402.4 L522.8,471.2 L498.8,459.2"/>
<path class="l" d="M430.0,500.0 L500.0,467.0"/>
<path class="l" d="M430.0,512.5 L529.7,464.2"/>
<path class="l" d="M430.0,524.0 L521.3,480.5"/>
<path class="l" d="M430.0,537.7 L521.0,495.7"/>
<path class="l" d="M430.0,532.0 L519.0,491.5"/>
<path class="t" d="M430.0,540.0 L523.0,496.5"/>
<path class="t" d="M424.4,438.4 Q424.4,434.6 427.6,432.8 L481.6,403.4 Q487.6,400.6 487.6,406.6 L487.6,482 Q487.6,486.6 483.6,488.4 L434,511 Q430,512.5 430,508"/>
<path class="l" d="M427.6,440.4 Q427.6,437 430.4,435.4 L479.6,408.6 Q484.4,406.4 484.4,411.4 L484.4,479.6 Q484.4,483.6 480.8,485.2 L436,505.6"/>
<path d="M431.5,441 L481.5,413.5 L481.5,480 L434.5,502" stroke="#222" stroke-width="1.1" stroke-dasharray="0.9 3" fill="none"/>
<path class="l" d="M498,396 L498,420 M500.2,430 L500.2,482 Q500.2,487.5 495,490.5 L432,520"/>
<path d="M432.4,443 L437,440.8 L437,489 L432.4,491 Z" fill="#999" stroke="#444" stroke-width="0.6"/>
<path class="w" d="M438.0,439.2 L479.6,420.0 L494.0,427.2 L494.0,461.6 L450.8,480.8 L438.0,472.8 Z"/>
<path class="l" d="M438.0,439.2 L452.0,447.0 L494.0,427.2"/>
<path class="l" d="M452.0,447.0 L450.8,480.8"/>
<path class="l" d="M444.0,436.5 L450.0,441.0 L486.0,424.0"/>
<path class="l" d="M441.0,474.5 L433.0,492.0 L437.5,494.0 L450.8,480.8"/>
<path class="l" d="M450.8,480.8 L478.0,468.5 L478.0,476.0 L456.0,486.5"/>
<ellipse cx="472.4" cy="450.4" rx="8" ry="6.2" transform="rotate(-28 472.4 450.4)" fill="#fff" stroke="#111" stroke-width="2.4"/>
<ellipse cx="472.4" cy="450.4" rx="4.6" ry="3.2" transform="rotate(-28 472.4 450.4)" fill="none" stroke="#111" stroke-width="1"/>
<circle class="k" cx="456.0" cy="452.0" r="0.9"/>
<circle class="k" cx="458.0" cy="462.0" r="0.9"/>
<circle class="k" cx="460.0" cy="471.0" r="0.9"/>
<circle class="k" cx="466.0" cy="437.0" r="0.9"/>
<circle class="k" cx="480.0" cy="436.0" r="0.9"/>
<circle class="k" cx="487.0" cy="444.0" r="0.9"/>
<circle class="k" cx="488.0" cy="456.0" r="0.9"/>
<circle class="k" cx="476.0" cy="465.0" r="0.9"/>
<circle class="k" cx="464.0" cy="456.0" r="0.9"/>
<circle class="k" cx="446.0" cy="447.0" r="0.9"/>
<circle class="k" cx="446.0" cy="458.0" r="0.9"/>
<circle class="k" cx="446.0" cy="468.0" r="0.9"/>
<path d="M495.6,424 L495.6,474" stroke="#222" stroke-width="2.6" stroke-dasharray="1.6 1.2" fill="none"/>
<path class="d" d="M452.0,462.0 L478.0,480.5"/>
<path d="M401.2,439.2 L416.4,436.0 L416.4,452.0 L406.0,450.4 Z" fill="url(#hat)" stroke="#111" stroke-width="0.6"/>
<path class="w" d="M231.0,343.0 L374.0,275.6 L375.6,246.4 L380.0,243.6 L603.0,376.5 L521.2,377.6 L399.6,436.0 L424.0,461.5 Z"/>
<path class="t" d="M231.0,343.0 L374.0,275.6"/>
<path class="l" d="M240.0,343.5 L368.0,283.8"/>
<path class="l" d="M259.0,339.6 L367.5,285.0"/>
<path class="l" d="M259.5,337.8 L367.0,283.4"/>
<path d="M238,342 L372,279" stroke="#222" stroke-width="1.2" stroke-dasharray="0.9 8.5" fill="none"/>
<path class="l" d="M375.6,246.4 L375.6,272.0 L372.0,276.0"/>
<path class="l" d="M380.0,243.6 L380.0,266.0"/>
<path class="t" d="M376.0,246.0 L380.0,243.6 L601.8,374.2 L605.6,379.5"/>
<path class="t" d="M375.6,261.5 L371.8,263.6 L370.4,267.0 L371.2,275.0"/>
<path class="h" d="M383.0,248.5 L598.0,376.5"/>
<path d="M380.5,252.6 L571,362.6" stroke="#151515" stroke-width="4.2" fill="none"/>
<path d="M571,364 L594,376" stroke="#151515" stroke-width="2.4" stroke-dasharray="2 1.4" fill="none"/>
<path d="M388,264 L560,367" stroke="#222" stroke-width="1.3" stroke-dasharray="1 4.4" fill="none"/>
<path class="l" d="M379.0,269.0 L520.0,350.0"/>
<path class="l" d="M386.0,269.5 L533.0,356.0"/>
<path class="l" d="M368,283.6 L382.4,276.4 L400,281.6 Q401.5,284 398.4,285.2 L384,281.2 L371.2,286.8 Q367.5,286.5 368,283.6 Z"/>
<path class="l" d="M371,284.6 L382.8,278.8 L397,283"/>
<circle class="l" cx="365.5" cy="278.5" r="1.2"/>
<path class="l" d="M273,339 Q268,337.5 272,335 L366,290.5 Q372,288 378,290.5 L478,346 Q486,351 478,355.5 L368,390 Q359,393.5 353,390 Z"/>
<path class="l" d="M268,342.5 Q261,339.5 267,336.5 L365,287 Q372,284.2 379,287.4 L482,344.8 Q492,351 482,357.5 L369,394.5 Q359,398 351,394 Z"/>
<path class="l" d="M259,347 Q250,342.5 258,338.5 M489,344.5 Q500,352 489,360.5 L372,402 Q359,407 347,401.5 L259,347"/>
<path class="l" d="M254,351.5 L345,406.5 Q359,412 374,406.5 L494,363.5 Q505,357 501,350"/>
<path class="l" d="M359.0,391.5 L346.0,407.0"/>
<path class="l" d="M359.0,391.5 L371.0,396.0 L382.0,414.0"/>
<path class="l" d="M346.0,407.0 L382.0,414.0"/>
<path class="l" d="M478.0,355.5 L489.0,360.5"/>
<path class="l" d="M462,338 C470,352 470,368 474,372"/>
<ellipse cx="370" cy="338.4" rx="63" ry="33.4" transform="rotate(-3 370 338.4)" fill="none" stroke="#111" stroke-width="2.6"/>
<ellipse cx="370" cy="339" rx="52" ry="27.6" transform="rotate(-3 370 339)" fill="none" stroke="#111" stroke-width="2.4"/>
<path d="M450.0,318.0 L460.0,314.0 L513.0,346.0 L504.0,350.0 Z" fill="url(#hat)" stroke="#111" stroke-width="0.6"/>
<path d="M437.0,393.0 L514.0,357.0 L527.0,363.5 L450.0,400.0 Z" fill="url(#hat)" stroke="#111" stroke-width="0.6"/>
<path class="w" d="M514.7,366 L517.6,356 Q518.8,353.4 521.6,354.8 L529.5,359 Q532,360.6 530.4,363 L528,366.8 Q526.5,368.4 524,367.6 Z" style="stroke-width:1.8"/>
<path class="wt" d="M521.2,378.8 L542.0,369.0 L588.8,382.0 L590.4,386.0 L583.6,390.5 L546.0,383.3 Z"/>
<path class="w" d="M534.2,374.9 L544.6,369.9 L561.5,378.1 L557.6,380.7 Z"/>
<circle class="k" cx="414.0" cy="411.0" r="1.3"/>
<circle class="k" cx="428.0" cy="408.6" r="1.3"/>
<circle class="k" cx="432.0" cy="408.0" r="1.3"/>
<path d="M402,441 L518,386" stroke="#222" stroke-width="1.2" stroke-dasharray="1 6" fill="none"/>
<path d="M572,360 L596,374" stroke="#fff" stroke-width="1" stroke-dasharray="1.5 2.5" fill="none"/>
<g clip-path="url(#openclip)">
<rect x="200" y="350" width="180" height="240" fill="#fff"/>
<path class="l" d="M248,384 C238,392 234,398 234,408 L233,430 Q234,441 242,442.5 L254,443 Q257.5,442 257.5,438 L258,418 Q258,414.5 254,414 Q249,413 248.5,408 Z"/>
<path class="l" d="M251,386 C242,394 237.5,400 237.5,409 L236.6,429 Q237,437.5 243,439"/>
<path class="l" d="M258.0,418.0 L288.0,403.0"/>
<path class="l" d="M257.5,424.0 L300.0,404.0"/>
<path class="l" d="M257.5,438.0 L304.0,417.0"/>
<path class="l" d="M254.0,443.0 L320.0,412.5"/>
<path class="l" d="M248.5,408.0 L254.0,414.0"/>
<path class="h" d="M234.0,418.0 L258.0,428.0"/>
<path class="h" d="M236.0,400.0 L250.0,392.0"/>
<path class="l" d="M215.0,478.5 L330.0,426.0"/>
<path class="l" d="M226.0,478.0 L340.0,430.0"/>
<path class="l" d="M215.0,361.0 L215.0,480.0 L364.0,566.0"/>
<ellipse cx="360" cy="496" rx="87" ry="61" transform="rotate(2 360 496)" fill="none" stroke="#111" stroke-width="1.9"/>
<ellipse cx="360" cy="496" rx="80" ry="54" transform="rotate(2 360 496)" fill="none" stroke="#111" stroke-width="1.9"/>
<ellipse cx="360" cy="496" rx="64" ry="46" transform="rotate(2 360 496)" fill="none" stroke="#111" stroke-width="1.9"/>
<ellipse cx="360" cy="496" rx="57" ry="41" transform="rotate(2 360 496)" fill="none" stroke="#111" stroke-width="1.9"/>
<ellipse cx="360" cy="496" rx="32" ry="27" transform="rotate(2 360 496)" fill="none" stroke="#111" stroke-width="1.8"/>
<ellipse cx="360" cy="496" rx="28" ry="24" transform="rotate(2 360 496)" fill="none" stroke="#111" stroke-width="1.4"/>
<ellipse cx="360" cy="496" rx="84" ry="57.5" transform="rotate(2 360 496)" fill="none" stroke="#111" stroke-width="1"/>
<ellipse cx="360" cy="496" rx="60.5" ry="43.5" transform="rotate(2 360 496)" fill="none" stroke="#111" stroke-width="1"/>
<ellipse cx="361" cy="497" rx="7" ry="8" fill="#fff" stroke="#111" stroke-width="1.2"/>
<ellipse cx="362" cy="497" rx="4.4" ry="5.4" fill="none" stroke="#111" stroke-width="1"/>
<path class="w" d="M228,482 L263,466.5 Q267,465.5 266.5,469.5 L259.5,495 Q257.5,499 254,497.5 Z"/>
<path class="w" d="M342,550 L366,550 L366,566 Z"/>
<path class="l" d="M221,365 L221,388 Q221.6,390 223.5,389.2 L247,378"/>
</g>
<path class="wt" fill-rule="evenodd" d="M197.6,335 L207,330.4 L213,332.4 L424,459.5 L430.3,462.6 L430.3,623.2 L422,627.6 L197.6,494 Z M211,359 L365,448 L365,573 L211,484 Z"/>
<path class="l" d="M197.6,336.2 L424.0,461.5 L424.0,626.5"/>
<path class="l" d="M213.0,332.4 L216.0,338.0"/>
<path d="M199,495.6 L422,628" stroke="#111" stroke-width="2.8" fill="none"/>
<path class="wt" d="M191.0,342.0 L199.0,340.0 L205.0,343.0 L212.0,346.0 L204.0,350.0 L191.0,345.0 Z"/>
<path class="l" d="M199.0,340.0 L199.0,346.0 L204.0,347.5"/>
<path class="wt" d="M190.0,496.0 L199.0,493.0 L210.0,498.0 L200.0,503.0 L190.0,499.0 Z"/>
<circle class="k" cx="201.0" cy="414.0" r="1.1"/>
<circle class="k" cx="201.0" cy="485.0" r="1.1"/>
<path class="l" d="M290.0,384.0 L292.5,382.0"/>
<path class="l" d="M348.0,417.0 L350.5,415.0"/>
<path class="w" d="M382.6,463.4 L417.8,482.6 L420.8,484.5 L420.8,619.0 L382.6,596.0 Z"/>
<path class="l" d="M384.6,466.5 L384.6,594.0"/>
<path class="l" d="M417.8,482.6 L417.8,616.0"/>
<path d="M390.6,478.6 L399.4,472.6 L417,483 L416.4,485.4 L391.4,496.4 L390.6,493 Z" fill="#1b1b1b" stroke="#111" stroke-width="0.8"/>
<path d="M392.5,495.2 L415.5,485" stroke="#ddd" stroke-width="1" stroke-dasharray="1.4 1.6" fill="none"/>
<path d="M383.4,465 L391.4,466.8 L385,470.8 Z" fill="#1b1b1b"/>
<path d="M383,474.6 L386.2,474.8 L386.2,481.2 L383,480.4 Z" fill="#1b1b1b"/>
<path d="M384.2,487.4 L389,487.6 L388.2,494.8 L385,494 Z" fill="#1b1b1b"/>
<path d="M375,472.2 L379,474.6 L379.8,486.6 L375.8,485 Z" fill="#1b1b1b" stroke="#111" stroke-width="0.6"/>
<path class="l" d="M391.2,496.4 L391.2,592.0 L384.6,590.0"/>
<path class="l" d="M416.6,486.0 L416.6,613.0"/>
<path class="l" d="M417.8,499.4 L420.2,498.6 L420.2,521.8 L417.8,522.6"/>
<path class="l" d="M391.2,551.0 L416.6,540.5"/>
<path class="l" d="M391.2,558.0 L416.6,547.0"/>
<ellipse class="k" cx="401.8" cy="458.2" rx="1.5" ry="1.2"/>
<ellipse class="k" cx="405.8" cy="461.0" rx="1.5" ry="1.2"/>
<path class="t" d="M375.7,555.5 L379.5,554.4 L379.5,566.0 L375.7,567.2 Z"/>
<path class="l" d="M383.5,519.0 L387.5,519.0 L387.5,526.0 L383.5,526.0 Z"/>
<path class="l" d="M384.5,541.0 L389.0,541.0 L386.5,548.0 L384.5,548.0 Z"/>
<path class="t" d="M385.0,571.0 L393.0,575.0 L393.0,584.0 L386.0,581.0 L386.0,577.0 L390.0,579.0"/>
<circle class="k" cx="385.0" cy="506.5" r="1"/>
<circle class="k" cx="385.0" cy="566.5" r="1"/>
<path d="M383,594 L420,616.5" stroke="#111" stroke-width="2.6" stroke-dasharray="4.5 3" fill="none"/>
<path class="l" d="M427.0,463.0 L427.0,625.0"/>
<path class="l" d="M424.0,538.0 L427.0,540.0 L427.0,556.0 L424.0,554.0"/>
<path class="l" d="M424.0,580.0 L427.5,583.0 L427.5,600.0"/>
</g>

<!-- 60_5009.svg -->
<g id="p5009">
<path class="d" d="M478.2,496 L478.2,671.4 L525,693.4"/>
<path class="d" d="M478.8,671.4 L478.8,686.8 L525,712"/>
<path class="d" d="M523.4,402 L523.4,662.6 L545,672.5"/>
<path class="d" d="M522.8,644.6 L570.1,665.9"/>
<path class="d" d="M572.3,665.9 L572.3,639.5 L599.8,652.0 L599.8,612.0 L615.2,620.8 L615.2,642.8"/>
<path class="d" d="M545.9,669.2 L545.9,686.8"/>
<path class="d" d="M529.4,678.0 L545.9,670.3"/>
<path class="d" d="M607.5,692.3 L654.8,719.8 L654.8,735.2 L607.5,763.8 L607.5,748.4 L654.8,719.8"/>
<path class="d" d="M607.5,748.4 L553.6,719.8"/>
<path class="d" d="M529.4,726.9 L607.5,763.8 L626.7,776.1"/>
<path class="d" d="M529.4,726.9 L529.4,805.6"/>
<path class="d" d="M654.8,735.2 L624.0,719.8"/>
<path class="l" d="M548.5,737.9 L548.5,764.9"/>
<path class="l" d="M624.0,635.8 L646.0,635.8"/>
<path class="l" d="M604.7,596.6 L618.5,597.3"/>
<path class="wt" d="M525.0,697.2 L530.5,695.6 L530.5,726.9 L525.0,724.7 Z"/>
<path class="l" d="M527.6,700.0 L527.6,704.4"/>
<path class="l" d="M527.6,709.9 L527.6,717.6"/>
<path class="wt" d="M530.5,683.5 L552.5,695.6 L552.5,737.9 L530.5,726.9 Z"/>
<path d="M533.8,693.0 L549.2,700.5 L549.2,731.9 L533.8,723.1 Z" fill="#3a3a3a" stroke="#111" stroke-width="1"/>
<path d="M536.4,695.6 L536.4,723.8" fill="none" stroke="#bbb" stroke-width="0.8"/>
<path d="M540.0,697.4 L540.0,726.0" fill="none" stroke="#bbb" stroke-width="0.8"/>
<path d="M543.7,700.0 L547.4,701.8 L547.4,728.6 L543.7,726.9 Z" fill="#ddd" stroke="#111" stroke-width="0.8"/>
<path class="l" d="M532.0,689.0 L551.0,698.3"/>
<path class="t" d="M532.0,728.2 L551.0,737.4"/>
<path class="wt" d="M530.5,683.5 L571.2,665.9 L589.9,675.8 L589.9,678.4 L552.5,695.6 Z"/>
<path class="l" d="M552.5,695.6 L589.9,675.8"/>
<ellipse class="k" cx="539.3" cy="685.7" rx="1.5" ry="1.1"/>
<ellipse class="k" cx="545.9" cy="687.9" rx="1.5" ry="1.1"/>
<ellipse class="k" cx="552.5" cy="691.7" rx="1.5" ry="1.1"/>
<ellipse class="k" cx="565.7" cy="680.2" rx="1.5" ry="1.1"/>
<ellipse class="k" cx="573.4" cy="683.5" rx="1.5" ry="1.1"/>
<ellipse class="k" cx="584.4" cy="674.7" rx="1.5" ry="1.1"/>
<ellipse class="k" cx="571.2" cy="667.0" rx="1.5" ry="1.1"/>
<path class="t" d="M552.5,675.4 L562.4,671.8"/>
<path class="w" d="M552.5,695.6 L589.9,678.4 L589.9,685.0 L556.9,700.0 Z"/>
<path class="wt" d="M556.9,700.0 L589.9,684.6 L607.5,692.3 L607.5,722.0 L599.8,733.5 L573.4,744.5 L556.9,735.7 Z"/>
<path class="l" d="M556.9,700.0 L573.4,709.9 L607.5,692.3"/>
<path class="l" d="M573.4,709.9 L573.4,744.5"/>
<ellipse class="k" cx="573.4" cy="696.7" rx="1.5" ry="1.1"/>
<ellipse class="k" cx="580.0" cy="699.4" rx="1.5" ry="1.1"/>
<ellipse class="k" cx="589.9" cy="691.7" rx="1.5" ry="1.1"/>
<ellipse class="k" cx="594.3" cy="693.9" rx="1.5" ry="1.1"/>
<path class="t" d="M576.1,716.5 Q576.1,712.8 579.6,711.0 L600.9,700.0 Q604.7,698.3 604.9,702.2 L605.1,720.9 Q604.7,724.7 601.6,727.5 L579.6,739.6 Q576.1,741.8 576.1,737.9 Z"/>
<path class="l" d="M578.3,737.4 Q578.3,715.4 581.1,713.2 L599.8,704.0 Q602.5,702.7 602.5,706.2 L602.5,722.0"/>
<path class="l" d="M593.2,735.2 L602.0,724.2"/>
<path class="w" d="M580.0,740.1 L590.6,737.0 L592.1,743.6 L584.9,747.3 L580.0,744.5 Z"/>
<path class="l" d="M584.9,747.3 L584.9,743.6"/>
<path class="wt" d="M592.1,632.9 L599.8,627.4 L624.0,637.3 L632.8,642.4 L637.2,653.8 L637.2,678.0 L621.8,690.1 L618.5,686.8 L627.3,676.9 L627.3,654.2 L622.3,649.8 L616.3,652.0 L616.3,643.9 Z"/>
<path class="l" d="M616.3,643.9 L624.0,637.3"/>
<path d="M597.6,633.1 L615.2,641.9" stroke="#222" stroke-width="2.6" stroke-dasharray="1.1 1.4" fill="none"/>
<circle class="k" cx="599.8" cy="632.2" r="0.9"/>
<circle class="k" cx="607.5" cy="635.8" r="0.9"/>
<circle class="k" cx="614.1" cy="638.8" r="0.9"/>
<ellipse class="wt" cx="599.8" cy="595.9" rx="4.2" ry="2.8"/>
<path d="M597.8,598.5 L601.8,598.5 L601.2,606.9 L598.8,606.9 Z" fill="#555" stroke="#111" stroke-width="1"/>
<g transform="translate(562,583.5) rotate(32)"><path d="M-8,-1.8 L0,-2.3 L0,2.3 L-8,1.8 Z" fill="#555" stroke="#111" stroke-width="1"/><ellipse cx="2.4" cy="0" rx="2.6" ry="4.2" fill="#fff" stroke="#111" stroke-width="1.6"/></g>
<path class="l" d="M566.4,582.8 L580,577.6"/>
<path class="d" d="M523.4,564 L553,578.5"/>
<g transform="translate(638,783) rotate(30)"><path d="M-9,-1.8 L0,-2.3 L0,2.3 L-9,1.8 Z" fill="#555" stroke="#111" stroke-width="1"/><ellipse cx="2.6" cy="0" rx="2.8" ry="4.4" fill="#fff" stroke="#111" stroke-width="1.6"/></g>
<path class="l" d="M638.5,789 L638.5,814"/>
</g>

<!-- 62_5000.svg -->
<g id="p5000">
<path class="d" d="M801.8,565 L801.8,743.6 L767.8,761.2 L767.8,847"/>
<path class="l" d="M711.7,699.6 L730.4,711.7"/>
<path class="l" d="M722.7,793.1 L722.7,819.5"/>
<path class="wt" d="M712.8,726.0 Q712.4,717.6 719.0,714.6 L733.7,708.8 Q739.2,707.1 744.7,709.7 L782.1,725.6 Q789.8,730.0 788.7,738.1 Q787.6,746.9 776.6,752.4 L757.9,758.1 Q751.3,759.4 745.8,755.0 L716.8,735.9 Q712.8,732.6 712.8,726.0 Z"/>
<ellipse class="w" cx="766.1" cy="741.8" rx="22.4" ry="12.2" transform="rotate(-22 766.1 741.8)"/>
<ellipse class="l" cx="766.1" cy="741.8" rx="19.4" ry="9.8" transform="rotate(-22 766.1 741.8)"/>
<path class="l" d="M715.0,717.6 L746.9,734.8"/>
<circle class="w" cx="757.9" cy="745.4" r="7"/>
<circle cx="759.5" cy="747.4" r="4" fill="#fff" stroke="#111" stroke-width="2.2"/>
<circle cx="760.1" cy="748.0" r="1.6" fill="#333"/>
<circle class="w" cx="776.0" cy="739.2" r="7"/>
<circle cx="777.6" cy="741.2" r="4" fill="#fff" stroke="#111" stroke-width="2.2"/>
<circle cx="778.2" cy="741.8" r="1.6" fill="#333"/>
<path class="w" d="M714.6,761.2 L717.6,759.7 L726.0,764.3 L726.0,768.9 L722.9,770.0 L726.0,773.3 L726.0,783.2 L778.8,767.8 L795.3,775.5 L795.3,783.2 L792.0,783.7 L791.1,778.8 L785.9,777.7 L781.5,782.3 L772.7,779.9 L767.8,783.7 L763.4,792.0 L753.7,794.7 L751.5,787.6 L748.0,786.5 L747.1,792.0 L739.2,795.5 L734.8,792.0 L730.4,793.3 L726.0,792.0 L723.8,793.3 L714.6,786.7 Z"/>
<path class="l" d="M726.0,783.2 L726.0,792.0"/>
<path class="l" d="M717.6,759.7 L717.6,763.4 L723.4,766.5"/>
<path class="l" d="M728.6,786.5 L763.4,776.2"/>
<path d="M734.8,785.9 L762.3,777.1" stroke="#222" stroke-width="2.4" stroke-dasharray="1 1.3" fill="none"/>
<path class="l" d="M753.7,794.7 L752.4,788.7 L763.0,785.4"/>
<path class="l" d="M781.5,782.3 L783.2,776.6 L792.0,778.8"/>
<path class="l" d="M739.2,795.5 L738.3,790.3 L747.6,787.6"/>
<circle class="l" cx="767.8" cy="774.4" r="1.3"/>
<circle class="k" cx="760.8" cy="787.2" r="1"/>
<path d="M766.6,843.0 l3.4,0 l0.4,8 l-2,3 l-2.2,-3 Z" fill="#555" stroke="#111" stroke-width="1"/>
<ellipse cx="768.3" cy="857.5" rx="4.6" ry="3.2" fill="#555" stroke="#111" stroke-width="1.4"/>
</g>
<g id="p5018">
<path class="d" d="M795.5,649.7 L854.0,604.3 L915.2,640.3 L928.1,645.9"/>
<path class="l" d="M938.9,631.7 L938.9,646.6"/>
<path class="l" d="M861.2,659.2 L861.2,704.7"/>
<path class="l" d="M867.5,659.2 L896.3,689.8"/>
<path class="l" d="M827.0,652.9 C839.6,639.4 850.4,632.2 865.7,632.2"/>
<path class="l" d="M828.4,654.2 C841.4,642.1 852.2,634.4 865.7,634.4"/>
<path class="l" d="M827.0,655.6 C836.0,646.6 845.0,649.3 854.0,652.0"/>
<path class="l" d="M827.9,657.4 C836.9,649.3 845.9,651.6 853.6,654.2"/>
<path class="l" d="M881.9,637.2 C893.6,646.6 900.8,643.0 908.0,634.9"/>
<path class="l" d="M881.9,639.0 C893.6,648.8 901.7,645.2 909.1,636.2"/>
<path class="l" d="M870.2,656.5 C879.2,664.6 888.2,664.6 894.5,656.5"/>
<path class="l" d="M869.8,658.7 C879.2,666.8 889.1,666.8 895.8,657.8"/>
<path class="wt" d="M815.3,655.6 L823.4,650.7 L828.3,657.4 L820.3,663.9 Z"/>
<path class="l" d="M818.0,657.0 L822.5,661.0"/>
<path class="l" d="M820.2,655.2 L824.8,659.2"/>
<path class="w" d="M864.8,632.2 L868.4,628.6 L883.7,634.0 L882.8,640.3 L879.2,642.1 L865.2,637.2 Z"/>
<path class="l" d="M865.2,637.2 L868.4,633.6 L882.8,638.5"/>
<path class="l" d="M868.4,628.6 L868.4,633.6"/>
<path class="w" d="M852.2,652.9 L856.2,648.9 L870.6,654.2 L869.8,660.1 L866.6,661.4 L852.6,657.0 Z"/>
<path class="l" d="M852.6,657.0 L856.2,653.8 L869.8,658.8"/>
<path class="l" d="M856.2,648.9 L856.2,653.8"/>
<ellipse cx="910.2" cy="634.0" rx="5" ry="2.2" transform="rotate(-42 910.2 634.0)" fill="#fff" stroke="#111" stroke-width="2.3"/>
<path class="wt" d="M892.7,652.0 L898.1,647.5 L903.5,652.0 L898.1,657.8 Z"/>
<path class="l" d="M895.4,649.8 L900.4,654.7"/>
<g transform="translate(935.9,649.3) rotate(28)"><path d="M-8,-1.6 L0,-2.2 L0,2.2 L-8,1.6 Z" fill="#555" stroke="#111" stroke-width="1"/><ellipse cx="2.4" cy="0" rx="2.8" ry="4.2" fill="#888" stroke="#111" stroke-width="1.6"/></g>
</g>

<!-- 64_5006.svg -->
<g id="p5006">
<path class="d" d="M487.4,807 L487.4,857.4"/>
<path class="d" d="M529.6,790 L529.6,848.4 L496.8,866.4"/>
<path class="d" d="M496.8,868.6 L488.1,873.6 L486.0,864.6"/>
<path class="l" d="M397.8,819.6 L420.3,819.6"/>
<path class="l" d="M429.3,834.0 L429.3,852.0"/>
<path class="l" d="M449.5,940.2 L449.5,958.2"/>
<path class="l" d="M485.4,780 L485.4,793.5"/>
<path class="w" d="M386.1,877.2 L441.9,849.3 Q444.6,847.5 443.2,843.4 L440.1,842.1 Q437.8,841.7 434.7,843.4 L381.2,870.9 L376.6,878.1 Q376.2,880.8 376.2,940.2 L376.6,945.6 Z"/>
<path class="wt" d="M394.2,942.0 L387.0,945.9 Q378.9,948.3 376.6,942.9 L376.2,880.8 Q376.6,873.6 383.0,870.0 L436.5,842.6 Q441.9,840.8 444.2,845.2 L443.7,848.4"/>
<path class="l" d="M381.6,942.9 L381.2,882.6 Q381.6,877.2 387.0,874.0 L439.2,847.0"/>
<path class="l" d="M386.1,938.4 L381.6,942.9"/>
<path class="wt" d="M386.1,877.2 L453.6,844.8 L460.8,846.6 L464.4,850.6 L472.5,854.2 L482.4,852.0 L509.4,875.4 L513.9,879.9 L509.4,877.2 Z"/>
<path class="l" d="M460.8,846.6 L463.5,845.2 L475.2,851.1 L482.4,852.0"/>
<path class="l" d="M386.1,877.2 L509.4,877.2"/>
<path class="wt" d="M509.4,877.2 L513.9,879.9 L513.9,929.0 L516.6,930.8 L515.1,934.8 L509.4,936.9 Z"/>
<path class="l" d="M511.7,880.8 L511.7,930.3"/>
<path class="wt" d="M386.1,877.2 L509.4,877.2 L509.4,940.2 L396.0,940.2 L386.1,938.4 Z"/>
<path class="t" d="M417.2,893.4 Q417.2,890.7 419.8,890.7 L435.6,890.7 Q438.3,890.7 438.3,893.4 L438.3,921.3 Q438.3,924.0 435.6,924.0 L419.8,924.0 Q417.2,924.0 417.2,921.3 Z"/>
<path class="l" d="M418.5,892.0 L427.5,896.1 L437.0,892.0"/>
<path class="l" d="M427.5,896.1 L427.5,919.5"/>
<path class="l" d="M418.5,922.5 L427.5,919.5 L437.0,922.5"/>
<ellipse class="k" cx="467.6" cy="894.3" rx="1.4" ry="2"/>
<ellipse class="k" cx="481.5" cy="893.4" rx="1.4" ry="2"/>
<ellipse class="k" cx="475.2" cy="902.0" rx="1.4" ry="2"/>
<ellipse class="wt" cx="427.0" cy="867.3" rx="7.4" ry="5.2" transform="rotate(-12 427.0 867.3)"/>
<path class="t" d="M418.0,866.0 L422.1,863.7"/>
<path class="t" d="M432.0,863.2 L436.5,866.8 L432.9,872.2"/>
<path class="t" d="M439.2,859.6 L444.6,857.4 L446.8,862.8 L441.4,865.1 Z"/>
<ellipse class="k" cx="455.4" cy="861.9" rx="1.6" ry="1.1"/>
<path class="t" d="M477.9,863.9 L482.4,862.4 L483.8,868.2 L479.2,869.5 Z"/>
<path class="l" d="M494.1,867.5 L499.5,864.6 L502.5,866.4 L497.1,869.5 Z"/>
<ellipse class="k" cx="486.5" cy="859.2" rx="1.6" ry="1.1"/>
<path class="wt" d="M414.0,802.5 L426.6,796.7 L444.6,800.3 L432.4,807.0 Z"/>
<circle class="l" cx="420.3" cy="802.0" r="1"/>
<circle class="l" cx="427.0" cy="801.2" r="1"/>
<circle class="l" cx="431.1" cy="800.9" r="1"/>
<circle class="l" cx="437.8" cy="801.2" r="1"/>
<rect class="wt" x="420.3" y="808.8" width="17.5" height="25.2" rx="4" ry="4"/>
<path class="l" d="M420.8,813.3 Q428.9,816.9 437.4,813.3"/>
<path class="l" d="M423.4,805.2 L423.4,809.2"/>
<path class="l" d="M434.7,805.2 L434.7,809.2"/>
<path class="wt" d="M477.4,799.4 l5,-3.4 l5,1 l5.4,-2.6 l4.4,1.6 l-4,3.4 l0.6,2.6 l-5,3.6 l-6,-0.6 l-4.4,2.6 l-3.6,-1.8 l3.4,-3 Z"/>
<ellipse class="wt" cx="486.9" cy="799.5" rx="5.4" ry="3.4"/>
<ellipse class="w" cx="486.9" cy="796.7" rx="5" ry="2.8"/>
<path d="M475.9,803.9 l4,-2.4 M494.9,797.4 l3.6,-2.6" stroke="#111" stroke-width="2" fill="none"/>
</g>

<!-- 70_misc.svg -->
<g id="misc">
<!-- 5016 -->
<path class="l" d="M432.4,238 L473.4,238"/>
<path class="d" d="M421,246 L421,406"/>
<path class="wt" d="M410,243.5 L414.5,240 L413.5,236.5 L417,233.5 L424,232.6 L428.5,234.5 L432.4,237.6 L429.5,241 L425.5,244.5 L418,245.4 L414.5,243.4 L411.5,245 Z"/>
<ellipse class="w" cx="421" cy="239.6" rx="5.6" ry="3.6"/>
<ellipse class="w" cx="421" cy="237.2" rx="5" ry="2.8"/>
<path d="M409.6,244.2 L414,242.6 M428.5,236.6 L432.6,237.8" stroke="#111" stroke-width="2.2" fill="none"/>
<!-- 3006 -->
<path class="l" d="M504,299.6 L522.5,299.6"/>
<path class="d" d="M500.4,305 L500.4,388"/>
<path d="M497,294 L502.5,293.4 L504.6,296 L504.6,302.5 L501.5,305 L497.4,303.4 Z" fill="#fff" stroke="#111" stroke-width="1.8"/>
<path d="M498.8,296 L502.6,296.4 L502.6,301.6 L499.4,301.6 Z" fill="#666" stroke="#111" stroke-width="0.8"/>
<!-- W140 upper screw right of cavity -->
<g transform="translate(645,379) rotate(-25)"><path d="M-8.5,-1.8 L1,-2.4 L1,2.4 L-8.5,1.8 Z" fill="#555" stroke="#111" stroke-width="1"/><ellipse cx="3.4" cy="0" rx="2.8" ry="4.4" fill="#777" stroke="#111" stroke-width="1.6"/></g>
<path class="d" d="M636.8,385 L607.9,398.6"/>
</g>

<!-- 90_labels.svg -->
<g class="lb">
<ellipse cx="234.4" cy="39.6" rx="30.5" ry="14.1"/><text x="234.4" y="44.6" textLength="33.5" lengthAdjust="spacingAndGlyphs">W101</text>
<ellipse cx="124.1" cy="77.5" rx="30.5" ry="14.1"/><text x="124.1" y="82.5">5011</text>
<ellipse cx="191.0" cy="107.0" rx="30.5" ry="14.1"/><text x="191.0" y="112.0">5004</text>
<ellipse cx="416.0" cy="96.0" rx="30.5" ry="14.1"/><text x="416.0" y="101.0">5014</text>
<ellipse cx="653.9" cy="117.0" rx="30.5" ry="14.1"/><text x="653.9" y="122.0" textLength="33.5" lengthAdjust="spacingAndGlyphs">W101</text>
<ellipse cx="723.4" cy="139.7" rx="30.5" ry="14.1"/><text x="723.4" y="144.7">5010</text>
<ellipse cx="821.3" cy="177.8" rx="30.5" ry="14.1"/><text x="821.3" y="182.8">5001</text>
<ellipse cx="504.0" cy="237.8" rx="30.5" ry="14.1"/><text x="504.0" y="242.8">5016</text>
<ellipse cx="552.8" cy="299.6" rx="30.5" ry="14.1"/><text x="552.8" y="304.6">3006</text>
<ellipse cx="901.6" cy="295.1" rx="30.5" ry="14.1"/><text x="901.6" y="300.1">5041</text>
<ellipse cx="898.0" cy="339.4" rx="30.5" ry="14.1"/><text x="898.0" y="344.4">5012</text>
<ellipse cx="787.7" cy="360.0" rx="30.5" ry="14.1"/><text x="787.7" y="365.0">5003</text>
<ellipse cx="645.7" cy="430.8" rx="30.5" ry="14.1"/><text x="645.7" y="435.8" textLength="33.5" lengthAdjust="spacingAndGlyphs">W140</text>
<ellipse cx="691.7" cy="464.7" rx="30.5" ry="14.1"/><text x="691.7" y="469.7">5007</text>
<ellipse cx="602.0" cy="567.2" rx="30.5" ry="14.1"/><text x="602.0" y="572.2" textLength="33.5" lengthAdjust="spacingAndGlyphs">W101</text>
<ellipse cx="647.1" cy="597.7" rx="30.5" ry="14.1"/><text x="647.1" y="602.7" textLength="33.5" lengthAdjust="spacingAndGlyphs">W101</text>
<ellipse cx="676.5" cy="636.2" rx="30.5" ry="14.1"/><text x="676.5" y="641.2">3007</text>
<ellipse cx="696.1" cy="686.4" rx="30.5" ry="14.1"/><text x="696.1" y="691.4">5000</text>
<ellipse cx="939.5" cy="616.3" rx="30.5" ry="14.1"/><text x="939.5" y="621.3" textLength="33.5" lengthAdjust="spacingAndGlyphs">W140</text>
<ellipse cx="921.3" cy="697.3" rx="30.5" ry="14.1"/><text x="921.3" y="702.3" textLength="50" lengthAdjust="spacingAndGlyphs">56851D</text>
<ellipse cx="862.1" cy="718.9" rx="30.5" ry="14.1"/><text x="862.1" y="723.9">5018</text>
<ellipse cx="548.5" cy="779.0" rx="30.5" ry="14.1"/><text x="548.5" y="784.0">5009</text>
<ellipse cx="485.0" cy="766.3" rx="30.5" ry="14.1"/><text x="485.0" y="771.3">5116</text>
<ellipse cx="367.3" cy="819.6" rx="30.5" ry="14.1"/><text x="367.3" y="824.6">5015</text>
<ellipse cx="639.8" cy="828.3" rx="30.5" ry="14.1"/><text x="639.8" y="833.3" textLength="33.5" lengthAdjust="spacingAndGlyphs">W101</text>
<ellipse cx="722.5" cy="833.8" rx="30.5" ry="14.1"/><text x="722.5" y="838.8">5002</text>
<ellipse cx="449.5" cy="972.3" rx="30.5" ry="14.1"/><text x="449.5" y="977.3">5006</text>
</g>


</g>
</svg>
</body></html>
